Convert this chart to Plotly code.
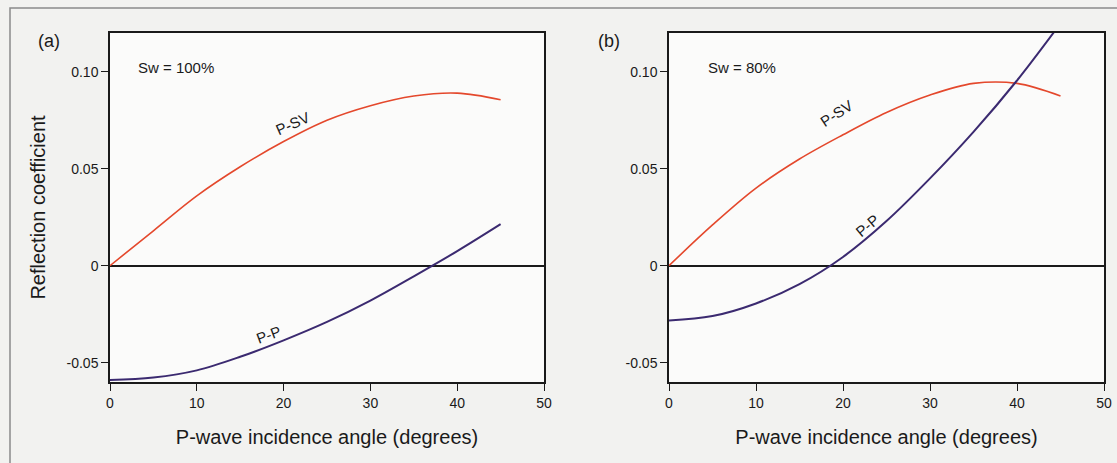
import plotly.graph_objects as go
from plotly.subplots import make_subplots

# ---- data ----
angle = [0, 5, 10, 15, 20, 25, 30, 35, 40, 45]
psv_a = [0.0, 0.018, 0.036, 0.051, 0.064, 0.075, 0.0825, 0.0875, 0.089, 0.0856]
pp_a = [-0.059, -0.0577, -0.054, -0.047, -0.0385, -0.029, -0.018, -0.0055, 0.0075, 0.0214]
psv_b = [0.0, 0.021, 0.040, 0.055, 0.0675, 0.079, 0.088, 0.094, 0.094, 0.0875]
pp_b = [-0.0283, -0.026, -0.0195, -0.0095, 0.0045, 0.023, 0.045, 0.069, 0.0955, 0.125]

xticks = [0, 10, 20, 30, 40, 50]
yticks = [-0.05, 0, 0.05, 0.10]
yticklabels = ["-0.05", "0", "0.05", "0.10"]

PSV_COLOR = "#e4482c"
PP_COLOR = "#3b2a70"
FONT = "Liberation Sans, Arial, sans-serif"
TXT = "#1a1a1a"

W, H = 1117, 463
ML, MR, MT, MB = 110, 13, 33, 81
PW = W - ML - MR
PH = H - MT - MB

fig = make_subplots(rows=1, cols=2)

fig.add_trace(go.Scatter(x=angle, y=psv_a, mode="lines", line=dict(color=PSV_COLOR, width=1.6, shape="spline", smoothing=1), showlegend=False), row=1, col=1)
fig.add_trace(go.Scatter(x=angle, y=pp_a, mode="lines", line=dict(color=PP_COLOR, width=2, shape="spline", smoothing=1), showlegend=False), row=1, col=1)
fig.add_trace(go.Scatter(x=angle, y=psv_b, mode="lines", line=dict(color=PSV_COLOR, width=1.6, shape="spline", smoothing=1), showlegend=False), row=1, col=2)
fig.add_trace(go.Scatter(x=angle, y=pp_b, mode="lines", line=dict(color=PP_COLOR, width=2, shape="spline", smoothing=1), showlegend=False), row=1, col=2)

axis_common = dict(showgrid=False, showline=True, linecolor=TXT, linewidth=1.5, mirror=True,
                   ticks="outside", ticklen=7, tickwidth=1.2, tickcolor=TXT, automargin=False,
                   tickfont=dict(family=FONT, size=14, color=TXT))

for xa, dom in (("xaxis", [0, 434 / PW]), ("xaxis2", [(669 - ML) / PW, 1])):
    fig.layout[xa].update(range=[0, 50], tickvals=xticks, domain=dom, zeroline=False,
                          title=dict(text="P-wave incidence angle (degrees)", font=dict(family=FONT, size=20, color=TXT), standoff=20),
                          **axis_common)
for ya in ("yaxis", "yaxis2"):
    fig.layout[ya].update(range=[-0.06, 0.12], tickvals=yticks, ticktext=yticklabels, domain=[0, 1],
                          zeroline=True, zerolinecolor=TXT, zerolinewidth=1.5,
                          **axis_common)
fig.layout.yaxis.title = dict(text="Reflection coefficient", font=dict(family=FONT, size=20, color=TXT), standoff=16)

ann_font = dict(family=FONT, size=15, color=TXT)
annotations = [
    dict(text="(a)", x=(49 - ML) / PW, y=1 + (MT - 41) / PH, xref="paper", yref="paper", xanchor="center", yanchor="middle",
         showarrow=False, font=dict(family=FONT, size=18, color=TXT)),
    dict(text="(b)", x=(609 - ML) / PW, y=1 + (MT - 41) / PH, xref="paper", yref="paper", xanchor="center", yanchor="middle",
         showarrow=False, font=dict(family=FONT, size=18, color=TXT)),
    dict(text="Sw = 100%", x=3.0, y=0.102, xref="x", yref="y", xanchor="left", showarrow=False, font=ann_font),
    dict(text="Sw = 80%", x=4.3, y=0.102, xref="x2", yref="y2", xanchor="left", showarrow=False, font=ann_font),
    dict(text="P-SV", x=21.0, y=0.0735, xref="x", yref="y", textangle=-24, showarrow=False, font=ann_font),
    dict(text="P-P", x=18.3, y=-0.0355, xref="x", yref="y", textangle=-20, showarrow=False, font=ann_font),
    dict(text="P-SV", x=19.2, y=0.0785, xref="x2", yref="y2", textangle=-33, showarrow=False, font=ann_font),
    dict(text="P-P", x=22.8, y=0.0205, xref="x2", yref="y2", textangle=-40, showarrow=False, font=ann_font),
]
fig.update_layout(annotations=annotations)

fig.add_shape(type="rect", xref="paper", yref="paper",
              x0=(10 - ML) / PW, x1=1.05, y0=-0.3, y1=1 + (MT - 8) / PH,
              line=dict(color="#8a8a8a", width=1.5), fillcolor="rgba(0,0,0,0)", layer="below")

fig.update_layout(width=W, height=H, margin=dict(l=ML, r=MR, t=MT, b=MB, autoexpand=False),
                  paper_bgcolor="#f2f2f0", plot_bgcolor="#fbfbfa", font=dict(family=FONT))

fig.write_html("out.html", config={"displayModeBar": False},
               post_script="document.body.style.margin='0';document.body.style.padding='0';document.body.style.overflow='hidden';")
